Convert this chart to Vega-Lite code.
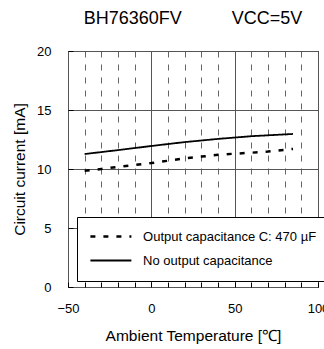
{
  "$schema": "https://vega.github.io/schema/vega-lite/v6.json",
  "width": 250,
  "height": 236,
  "autosize": "none",
  "padding": {"left": 68, "top": 51, "right": 6, "bottom": 62},
  "config": {
    "font": "Liberation Sans",
    "view": {"stroke": "black", "strokeWidth": 1},
    "axis": {"domain": false, "labelFontSize": 13, "titleFontSize": 15.5, "titleFontWeight": "normal", "labelColor": "black", "titleColor": "black", "gridOpacity": 1}
  },
  "title": {"text": "BH76360FV\u00a0\u00a0\u00a0\u00a0\u00a0\u00a0\u00a0\u00a0\u00a0\u00a0VCC=5V", "fontSize": 18, "fontWeight": "normal", "anchor": "middle", "offset": 17, "color": "black"},
  "data": {"values": [
    {"series": "No output capacitance", "t": -40, "i": 11.27},
    {"series": "No output capacitance", "t": -20, "i": 11.6},
    {"series": "No output capacitance", "t": 0, "i": 11.95},
    {"series": "No output capacitance", "t": 20, "i": 12.28},
    {"series": "No output capacitance", "t": 40, "i": 12.55},
    {"series": "No output capacitance", "t": 60, "i": 12.78},
    {"series": "No output capacitance", "t": 85, "i": 12.97},
    {"series": "Output capacitance C: 470 µF", "t": -40, "i": 9.85},
    {"series": "Output capacitance C: 470 µF", "t": -30, "i": 10.0},
    {"series": "Output capacitance C: 470 µF", "t": -20, "i": 10.18},
    {"series": "Output capacitance C: 470 µF", "t": -10, "i": 10.34},
    {"series": "Output capacitance C: 470 µF", "t": 0, "i": 10.5},
    {"series": "Output capacitance C: 470 µF", "t": 10, "i": 10.7},
    {"series": "Output capacitance C: 470 µF", "t": 20, "i": 10.9},
    {"series": "Output capacitance C: 470 µF", "t": 30, "i": 11.05},
    {"series": "Output capacitance C: 470 µF", "t": 40, "i": 11.2},
    {"series": "Output capacitance C: 470 µF", "t": 50, "i": 11.3},
    {"series": "Output capacitance C: 470 µF", "t": 60, "i": 11.38},
    {"series": "Output capacitance C: 470 µF", "t": 70, "i": 11.48},
    {"series": "Output capacitance C: 470 µF", "t": 85, "i": 11.7}
  ]},
  "mark": {"type": "line", "color": "black"},
  "encoding": {
    "x": {"field": "t", "type": "quantitative",
      "scale": {"domain": [-50, 100], "nice": false},
      "axis": {
        "title": "Ambient Temperature [℃]",
        "values": [-50, -40, -30, -20, -10, 0, 10, 20, 30, 40, 50, 60, 70, 80, 90, 100],
        "labelExpr": "datum.value % 50 === 0 ? datum.label : ''",
        "labelFlush": false,
        "tickSize": -5, "tickColor": "black",
        "labelPadding": 20,
        "titlePadding": 13,
        "gridColor": {"condition": {"test": "datum.value % 50 === 0", "value": "#555555"}, "value": "#666666"},
        "gridDash": {"condition": {"test": "datum.value % 50 === 0", "value": []}, "value": [6, 7]}
      }},
    "y": {"field": "i", "type": "quantitative",
      "scale": {"domain": [0, 20], "nice": false},
      "axis": {
        "title": "Circuit current [mA]",
        "values": [0, 5, 10, 15, 20],
        "labelFlush": false,
        "tickSize": -5, "tickColor": "black",
        "labelPadding": 22,
        "titlePadding": 9,
        "gridColor": "#555555"
      }},
    "strokeDash": {"field": "series", "type": "nominal",
      "scale": {"domain": ["Output capacitance C: 470 µF", "No output capacitance"], "range": [[5, 8], [1, 0]]},
      "legend": {
        "title": null, "orient": "none", "legendX": 9, "legendY": 166, "direction": "vertical",
        "fillColor": "white", "strokeColor": "black", "padding": 13,
        "symbolType": "M-4,0H4", "symbolSize": 105, "symbolOffset": 14.4, "symbolStrokeWidth": 1.8, "symbolStrokeColor": "black", "symbolFillColor": "transparent",
        "labelFontSize": 13, "labelOffset": 25.7, "labelColor": "black", "labelLimit": 300, "rowPadding": 10
      }},
    "strokeWidth": {"field": "series", "type": "nominal",
      "scale": {"domain": ["Output capacitance C: 470 µF", "No output capacitance"], "range": [2.5, 1.8]},
      "legend": null}
  }
}
